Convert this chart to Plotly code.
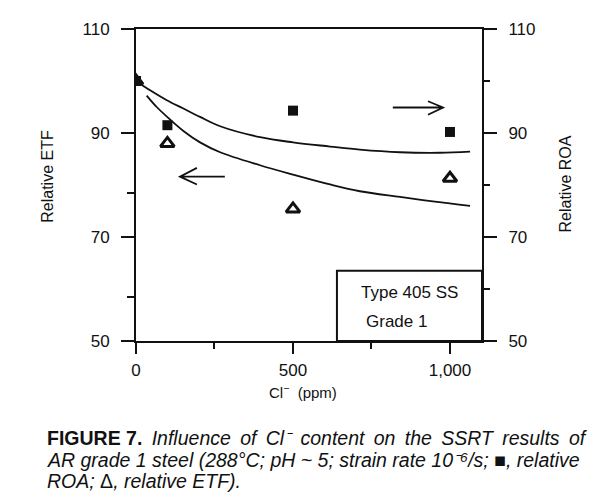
import plotly.graph_objects as go

# ---- data ----
cl_ppm = [0, 100, 500, 1000]
roa_rel = [100, 91.5, 94.3, 90.2]      # squares, right axis
etf_rel = [100, 88.0, 75.4, 81.3]      # triangles, left axis

roa_fit_x = [0, 20, 45, 98, 151, 204, 268, 395, 500, 618, 713, 841, 968, 1064]
roa_fit_y = [100, 99.2, 98.2, 96.3, 94.7, 93.1, 91.3, 89.2, 88.2, 87.4, 86.8, 86.3, 86.2, 86.4]
etf_fit_x = [34, 66, 103, 151, 204, 268, 395, 500, 618, 713, 841, 952, 1064]
etf_fit_y = [97.2, 95.0, 92.9, 90.4, 88.2, 86.3, 83.8, 82.0, 80.1, 78.8, 77.7, 76.8, 76.0]

x_ticks = [0, 500, 1000]
x_ticktext = ["0", "500", "1,000"]
y_ticks = [50, 70, 90, 110]

FONT = "Liberation Sans, Arial, sans-serif"
BLACK = "#111111"

fig = go.Figure()

fig.add_trace(go.Scatter(x=roa_fit_x, y=roa_fit_y, mode="lines",
                         line=dict(color=BLACK, width=1.8, shape="spline", smoothing=1.0),
                         showlegend=False, hoverinfo="skip"))
fig.add_trace(go.Scatter(x=etf_fit_x, y=etf_fit_y, mode="lines",
                         line=dict(color=BLACK, width=1.8, shape="spline", smoothing=1.0),
                         showlegend=False, hoverinfo="skip"))
fig.add_trace(go.Scatter(x=cl_ppm, y=roa_rel, mode="markers", name="ROA",
                         marker=dict(symbol="square", size=10, color=BLACK),
                         showlegend=False, yaxis="y2"))
fig.add_trace(go.Scatter(x=cl_ppm, y=etf_rel, mode="markers", name="ETF",
                         marker=dict(symbol="triangle-up", size=12, color="white",
                                     line=dict(color=BLACK, width=3)),
                         showlegend=False))

axis_common = dict(showgrid=False, zeroline=False, showline=True, linecolor=BLACK,
                   linewidth=2, tickcolor=BLACK, tickwidth=2, ticks="outside",
                   tickfont=dict(family=FONT, size=17, color=BLACK))

# page body has an 8px margin, so the figure is drawn 8px smaller and starts at (8, 8)
fig.update_layout(
    width=605, height=486,
    margin=dict(l=128, r=131, t=12, b=153),
    paper_bgcolor="white", plot_bgcolor="white",
    xaxis=dict(range=[0, 1102], tickmode="array", tickvals=x_ticks, ticktext=x_ticktext,
               ticklen=11, mirror=True, ticklabelstandoff=2,
               minor=dict(tickmode="array", tickvals=[250, 750], ticklen=6,
                          tickwidth=2, tickcolor=BLACK, ticks="outside"),
               **axis_common),
    yaxis=dict(range=[50, 110], tickmode="array", tickvals=y_ticks, ticklen=13,
               ticklabelstandoff=8,
               minor=dict(tickmode="array", tickvals=[58.4, 78.4], ticklen=7,
                          tickwidth=2, tickcolor=BLACK, ticks="outside"),
               **axis_common),
    yaxis2=dict(range=[50, 110], tickmode="array", tickvals=y_ticks, ticklen=13,
                overlaying="y", side="right", ticklabelstandoff=8,
                minor=dict(tickmode="array", tickvals=[60, 80, 100], ticklen=6,
                           tickwidth=2, tickcolor=BLACK, ticks="outside"),
                **axis_common),
)

# legend-like box
fig.add_shape(type="rect", xref="x", yref="y", x0=640, x1=1102, y0=50, y1=63.5,
              line=dict(color=BLACK, width=2), fillcolor="white", layer="below")

# arrows
fig.add_shape(type="path", xref="x", yref="y",
              path="M 818,94.9 L 978,94.9 M 930,96.1 L 978,94.9 L 930,93.5",
              line=dict(color=BLACK, width=1.8))
fig.add_shape(type="path", xref="x", yref="y",
              path="M 283,81.6 L 140,81.6 M 194,83.3 L 140,81.6 L 194,80.1",
              line=dict(color=BLACK, width=1.8))


def px_x(px):
    return (px - 136) / 346


def px_y(py):
    return (341 - py) / 321


ann = []
ann.append(dict(text="Type 405 SS", x=710, y=59.3, xref="x", yref="y", xanchor="left",
                yanchor="middle", showarrow=False, font=dict(family=FONT, size=17, color=BLACK)))
ann.append(dict(text="Grade 1", x=726, y=53.7, xref="x", yref="y", xanchor="left",
                yanchor="middle", showarrow=False, font=dict(family=FONT, size=17, color=BLACK)))
# axis titles
ann.append(dict(text="Relative ETF", x=px_x(48), y=px_y(172), xref="paper",
                yref="paper", textangle=-90, showarrow=False, xanchor="center", yanchor="middle",
                font=dict(family=FONT, size=16, color=BLACK)))
ann.append(dict(text="Relative ROA", x=px_x(566), y=px_y(180), xref="paper",
                yref="paper", textangle=-90, showarrow=False, xanchor="center", yanchor="middle",
                font=dict(family=FONT, size=16, color=BLACK)))
ann.append(dict(text="Cl<sup>\u2212</sup>  (ppm)", x=px_x(303), y=px_y(393),
                xref="paper", yref="paper", showarrow=False, xanchor="center", yanchor="middle",
                font=dict(family=FONT, size=15, color=BLACK)))
# caption, one annotation per line (first line spread out a little, as it is justified)
sp = " \u2009"
caption_lines = [
    "<b>FIGURE 7.</b>" + sp + "<i>" + sp.join(
        ["Influence", "of", "Cl\u207b", "content", "on", "the", "SSRT", "results", "of"]) + "</i>",
    "<i>AR grade 1 steel (288\u00b0C; pH ~ 5; strain rate 10\u207b\u2076/s;</i> \u25a0<i>, relative</i>",
    "<i>ROA;</i> \u0394<i>, relative ETF).</i>",
]
caption_y = [441, 463, 485]
for line, ly in zip(caption_lines, caption_y):
    ann.append(dict(text=line, x=px_x(45), y=px_y(ly), xref="paper", yref="paper",
                    showarrow=False, xanchor="left", yanchor="middle", align="left",
                    font=dict(family=FONT, size=19.5, color=BLACK)))
fig.update_layout(annotations=ann)

fig.write_html("out.html")
